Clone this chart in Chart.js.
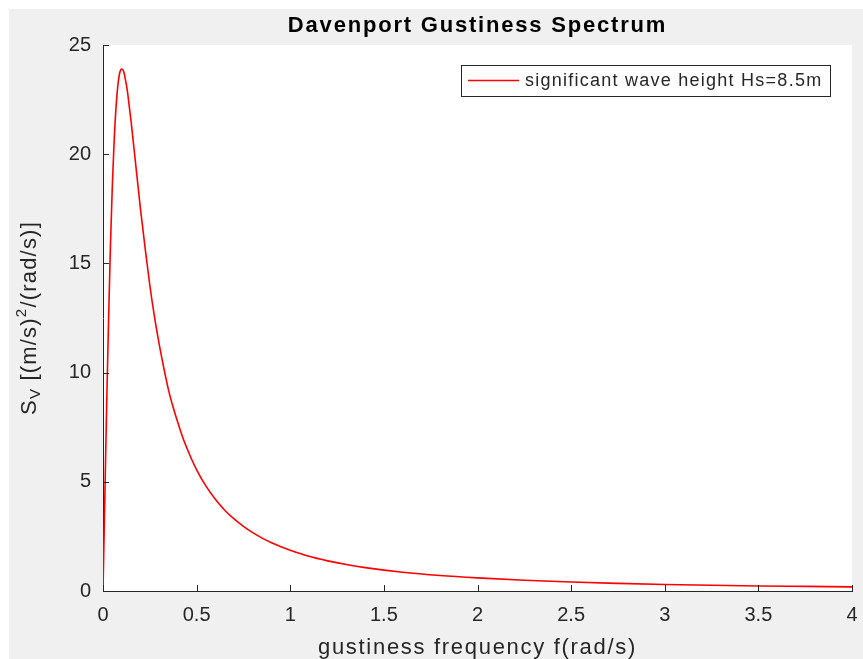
<!DOCTYPE html>
<html>
<head>
<meta charset="utf-8">
<title>Davenport Gustiness Spectrum</title>
<script src="https://cdn.jsdelivr.net/npm/chart.js@4/dist/chart.umd.min.js"></script>
<style>
  html, body { margin: 0; padding: 0; background: #ffffff; }
  #fig { position: absolute; left: 9px; top: 9px; width: 854px; height: 650px; background: #f0f0f0; }
</style>
</head>
<body>
<div id="fig"><canvas id="c" width="854" height="650"></canvas></div>
<script>
// gustiness frequency (rad/s)
const freq = [0, 0.005, 0.01, 0.02, 0.03, 0.04, 0.05, 0.06, 0.07, 0.08, 0.09, 0.1, 0.11, 0.12, 0.13,
  0.14, 0.15, 0.16, 0.17, 0.18, 0.19, 0.2, 0.225, 0.25, 0.275, 0.3, 0.325, 0.35, 0.375, 0.4,
  0.425, 0.45, 0.475, 0.5, 0.55, 0.6, 0.65, 0.7, 0.75, 0.8, 0.85, 0.9, 0.95, 1.0,
  1.1, 1.2, 1.3, 1.4, 1.6, 1.8, 2.0, 2.25, 2.5, 2.75, 3.0, 3.25, 3.5, 3.75, 4.0]
// spectral density Sv [(m/s)^2/(rad/s)]
const sv = [0, 2.2, 4.4, 8.7, 12.5, 15.9, 18.6, 20.7, 22.2, 23.2, 23.75, 23.9, 23.8, 23.4, 22.9,
  22.2, 21.5, 20.7, 19.9, 19.1, 18.3, 17.5, 15.7, 14.0, 12.55, 11.3, 10.2, 9.2, 8.4, 7.7,
  7.05, 6.5, 6.0, 5.55, 4.8, 4.2, 3.7, 3.3, 2.96, 2.67, 2.42, 2.21, 2.03, 1.87,
  1.59, 1.38, 1.21, 1.07, 0.86, 0.71, 0.6, 0.49, 0.41, 0.35, 0.3, 0.26, 0.23, 0.21, 0.19]

const seriesLabel = 'significant wave height Hs=8.5m'
const chartTitle = 'Davenport Gustiness Spectrum'
const xTitle = 'gustiness frequency f(rad/s)'

const AX = '#262626'
const FONT = '"Liberation Sans", Arial, Helvetica, sans-serif'

// white axes box, inward tick marks, titles and legend
const axesDecor = {
  id: 'axesDecor',
  beforeDraw(chart) {
    const { ctx, chartArea: a } = chart
    ctx.save()
    ctx.fillStyle = '#ffffff'
    ctx.fillRect(a.left, a.top, a.right - a.left, a.bottom - a.top)
    ctx.restore()
  },
  afterDraw(chart) {
    const { ctx, chartArea: a, scales } = chart
    ctx.save()
    ctx.strokeStyle = AX
    ctx.lineWidth = 1
    ctx.beginPath()
    scales.x.ticks.forEach(t => {
      const px = Math.round(scales.x.getPixelForValue(t.value)) + 0.5
      ctx.moveTo(px, a.bottom)
      ctx.lineTo(px, a.bottom - 6)
    })
    scales.y.ticks.forEach(t => {
      const py = Math.round(scales.y.getPixelForValue(t.value)) + 0.5
      ctx.moveTo(a.left, py)
      ctx.lineTo(a.left + 6, py)
    })
    ctx.stroke()

    const cx = (a.left + a.right) / 2

    // title
    ctx.fillStyle = '#000000'
    ctx.font = 'bold 22px ' + FONT
    ctx.letterSpacing = '1.8px'
    ctx.textAlign = 'center'
    ctx.textBaseline = 'middle'
    ctx.fillText(chartTitle, cx, 17)

    // x axis title
    ctx.fillStyle = AX
    ctx.font = '22px ' + FONT
    ctx.letterSpacing = '1.7px'
    ctx.fillText(xTitle, cx, 639)

    // y axis title with sub/superscripts, rotated
    const parts = [
      { t: 'S', f: '22px', dy: 0 },
      { t: 'V', f: '15px', dy: 6 },
      { t: ' [(m/s)', f: '22px', dy: 0 },
      { t: '2', f: '15px', dy: -8 },
      { t: '/(rad/s)]', f: '22px', dy: 0 }
    ]
    ctx.letterSpacing = '1.2px'
    let total = 0
    parts.forEach(p => { ctx.font = p.f + ' ' + FONT; p.w = ctx.measureText(p.t).width; total += p.w })
    ctx.translate(21, (a.top + a.bottom) / 2)
    ctx.rotate(-Math.PI / 2)
    ctx.textAlign = 'left'
    let x = -total / 2
    parts.forEach(p => {
      ctx.font = p.f + ' ' + FONT
      ctx.fillText(p.t, x, p.dy)
      x += p.w
    })
    ctx.setTransform(1, 0, 0, 1, 0, 0)

    // legend box
    const lx = 452, ly = 56, lw = 369, lh = 31
    ctx.fillStyle = '#ffffff'
    ctx.fillRect(lx, ly, lw, lh)
    ctx.strokeStyle = AX
    ctx.strokeRect(lx + 0.5, ly + 0.5, lw, lh)
    ctx.strokeStyle = '#ff0000'
    ctx.lineWidth = 1.5
    ctx.beginPath()
    ctx.moveTo(lx + 7, ly + 15.5)
    ctx.lineTo(lx + 58, ly + 15.5)
    ctx.stroke()
    ctx.fillStyle = AX
    ctx.font = '18px ' + FONT
    ctx.letterSpacing = '1.25px'
    ctx.textAlign = 'left'
    ctx.textBaseline = 'middle'
    ctx.fillText(chart.data.datasets[0].label, lx + 64, ly + 16)
    ctx.letterSpacing = '0px'
    ctx.restore()
  }
}

new Chart(document.getElementById('c'), {
  type: 'line',
  data: {
    datasets: [{
      label: seriesLabel,
      data: freq.map((f, i) => ({ x: f, y: sv[i] })),
      borderColor: '#ff0000',
      borderWidth: 1.6,
      pointRadius: 0,
      cubicInterpolationMode: 'monotone',
      fill: false
    }]
  },
  options: {
    animation: false,
    responsive: false,
    layout: { padding: { top: 36, right: 11, left: 0, bottom: 0 } },
    plugins: {
      legend: { display: false },
      title: { display: false },
      tooltip: { enabled: false }
    },
    scales: {
      x: {
        type: 'linear',
        min: 0,
        max: 4,
        ticks: {
          stepSize: 0.5, color: AX, font: { family: FONT, size: 20 }, padding: 12, maxRotation: 0,
          callback: v => String(v)
        },
        grid: { display: false, drawTicks: false },
        border: { display: true, color: AX, width: 1 },
        afterFit(s) { s.height = 68; s.paddingLeft = 0; s.paddingRight = 0 }
      },
      y: {
        type: 'linear',
        min: 0,
        max: 25,
        ticks: { stepSize: 5, color: AX, font: { family: FONT, size: 20 }, padding: 12 },
        grid: { display: false, drawTicks: false },
        border: { display: true, color: AX, width: 1 },
        afterFit(s) { s.width = 94; s.paddingTop = 0; s.paddingBottom = 0 }
      }
    }
  },
  plugins: [axesDecor]
})
</script>
</body>
</html>
